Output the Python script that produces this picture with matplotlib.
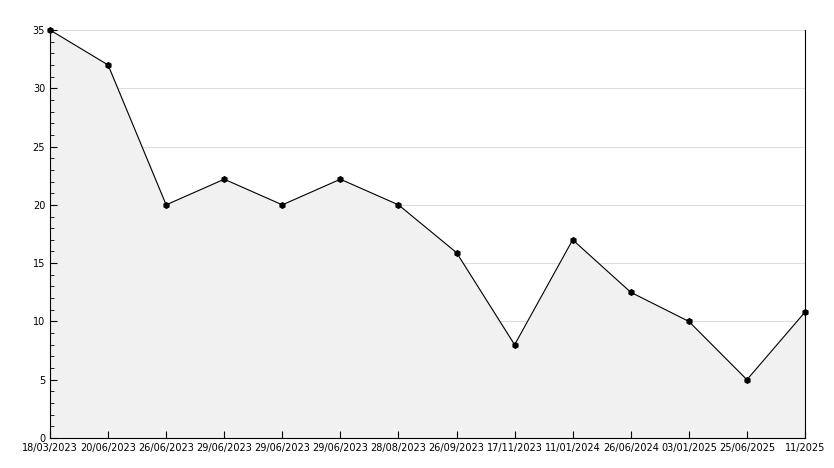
import matplotlib
matplotlib.use("Agg")
import matplotlib.pyplot as plt
from matplotlib.ticker import MultipleLocator

labels = ["18/03/2023", "20/06/2023", "26/06/2023", "29/06/2023", "29/06/2023",
          "29/06/2023", "28/08/2023", "26/09/2023", "17/11/2023", "11/01/2024",
          "26/06/2024", "03/01/2025", "25/06/2025", "11/2025"]
values = [35, 32, 20, 22.2, 20, 22.2, 20, 15.9, 8, 17, 12.5, 10, 5, 10.8]

fig = plt.figure(figsize=(8.34, 4.68), dpi=100)
ax = fig.add_axes([50/834, 30/468, 755/834, 408/468])
x = list(range(len(values)))
for gy in range(5, 36, 5):
    ax.axhline(gy, color="#dddddd", lw=0.8, zorder=0)
ax.fill_between(x, values, 0, color="#f1f1f1", zorder=1)
ax.plot(x, values, color="black", lw=0.8, marker="h", ms=4, zorder=3, clip_on=False)
ax.set_xlim(0, len(values) - 1)
ax.set_ylim(0, 35)
ax.yaxis.set_major_locator(MultipleLocator(5))
ax.yaxis.set_minor_locator(MultipleLocator(1))
ax.set_xticks(x)
ax.set_xticklabels(labels, fontsize=7)
ax.tick_params(axis="y", labelsize=7)
ax.tick_params(direction="in", length=5, width=0.8)
ax.tick_params(which="minor", direction="in", length=3)
ax.spines["top"].set_visible(False)
for s in ["left", "bottom", "right"]:
    ax.spines[s].set_linewidth(0.8)
fig.savefig("out.png", dpi=100)
